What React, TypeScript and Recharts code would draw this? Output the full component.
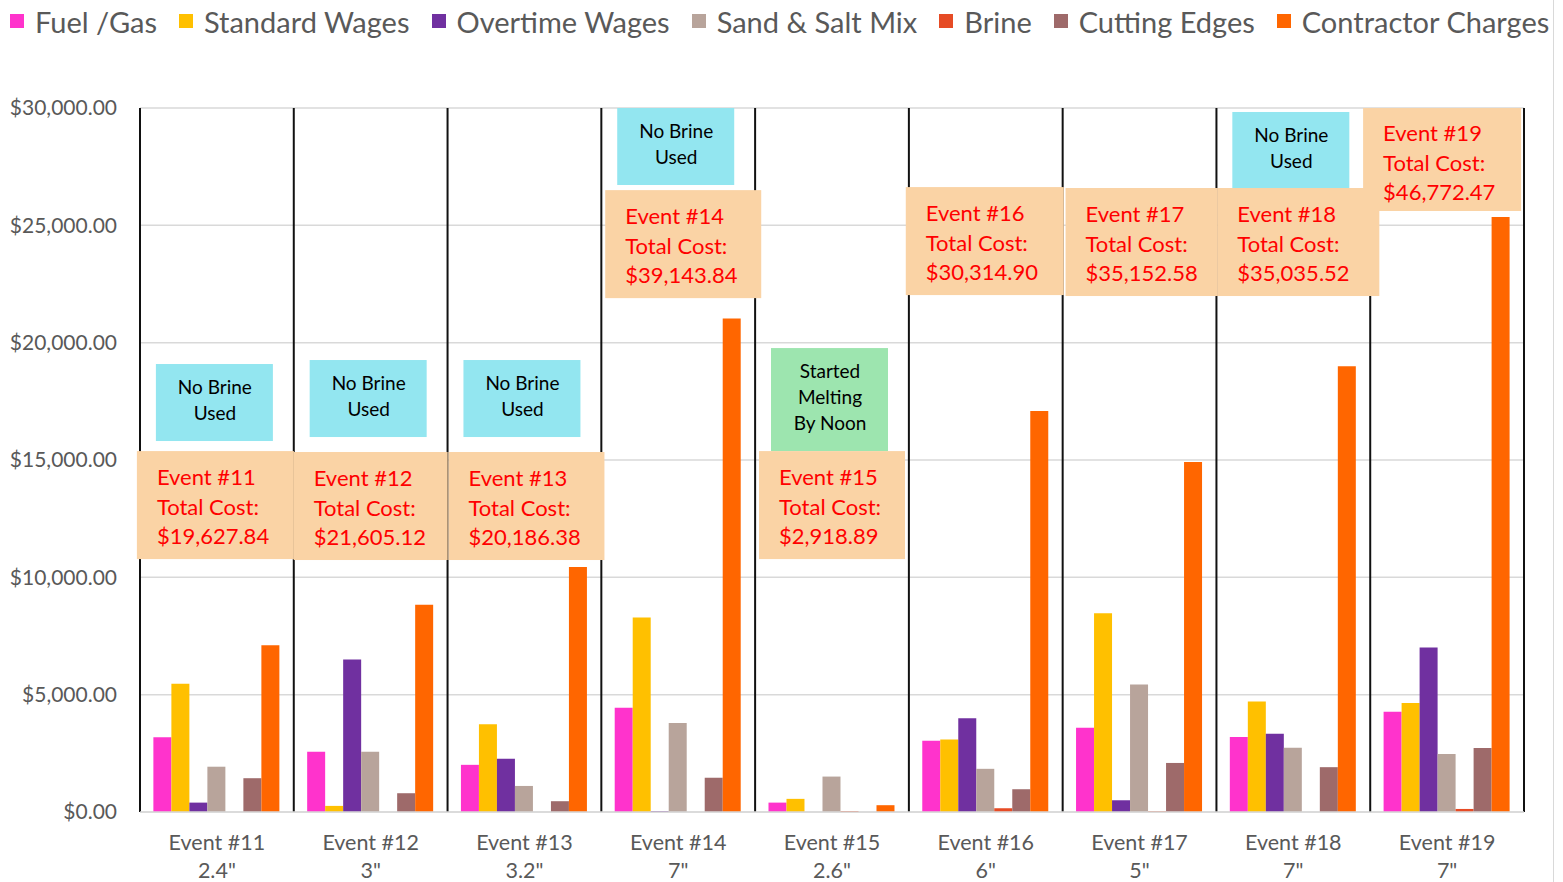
import React from 'react'
import { BarChart, Bar, XAxis, YAxis, CartesianGrid, Legend, ReferenceDot } from 'recharts'

const events = ['Event #11', 'Event #12', 'Event #13', 'Event #14', 'Event #15', 'Event #16', 'Event #17', 'Event #18', 'Event #19']
const snowfall = ['2.4"', '3"', '3.2"', '7"', '2.6"', '6"', '5"', '7"', '7"']

const fuelGas = [3190, 2570, 2010, 4440, 400, 3040, 3590, 3200, 4270]
const standardWages = [5470, 260, 3740, 8290, 560, 3090, 8470, 4710, 4640]
const overtimeWages = [400, 6500, 2270, 40, 0, 3990, 500, 3330, 7010]
const sandSaltMix = [1930, 2570, 1110, 3790, 1510, 1840, 5430, 2740, 2470]
const brine = [0, 0, 0, 0, 40, 160, 30, 0, 130]
const cuttingEdges = [1440, 800, 460, 1460, 0, 970, 2090, 1910, 2730]
const contractorCharges = [7110, 8830, 10440, 21030, 290, 17090, 14910, 19000, 25350]

const seriesKeys = ['fuel', 'standard', 'overtime', 'sand', 'brine', 'cutting', 'contractor']
const seriesNames = ['Fuel /Gas', 'Standard Wages', 'Overtime Wages', 'Sand & Salt Mix', 'Brine', 'Cutting Edges', 'Contractor Charges']
const colors = ['#FF33CC', '#FFC000', '#7030A0', '#B8A49B', '#E64B25', '#9E6A6A', '#FF6600']

const yTicks = [0, 5000, 10000, 15000, 20000, 25000, 30000]

// annotation boxes
const totalCosts = ['$19,627.84', '$21,605.12', '$20,186.38', '$39,143.84', '$2,918.89', '$30,314.90', '$35,152.58', '$35,035.52', '$46,772.47']
const costBoxTop = [15380, 15340, 15340, 26500, 15380, 26630, 26590, 26590, 30000]
const costBoxShift = [-80, -77, -76, -73, -73, -80, -74, -76, -84]
const costBoxWidth = [157, 154, 156, 156, 146, 158, 152, 162, 158]

const notes = [
  { event: 'Event #11', lines: ['No Brine', 'Used'], top: 19090, fill: '#93E6F0' },
  { event: 'Event #12', lines: ['No Brine', 'Used'], top: 19260, fill: '#93E6F0' },
  { event: 'Event #13', lines: ['No Brine', 'Used'], top: 19260, fill: '#93E6F0' },
  { event: 'Event #14', lines: ['No Brine', 'Used'], top: 30000, fill: '#93E6F0' },
  { event: 'Event #15', lines: ['Started', 'Melting', 'By Noon'], top: 19770, fill: '#9DE5AF' },
  { event: 'Event #18', lines: ['No Brine', 'Used'], top: 29830, fill: '#93E6F0' },
]

const data = events.map((event, i) => ({
  event,
  fuel: fuelGas[i],
  standard: standardWages[i],
  overtime: overtimeWages[i],
  sand: sandSaltMix[i],
  brine: brine[i],
  cutting: cuttingEdges[i],
  contractor: contractorCharges[i],
}))

const money = (v: number) =>
  '$' + v.toLocaleString('en-US', { minimumFractionDigits: 2, maximumFractionDigits: 2 })

function EventTick(props: any) {
  const { x, y, payload, index } = props
  return (
    <text x={x} y={y} textAnchor="middle" fill="#595959" fontSize={21.5} fontFamily="Lato">
      <tspan x={x} dy={30}>{payload.value}</tspan>
      <tspan x={x} dy={28}>{snowfall[index]}</tspan>
    </text>
  )
}

const costBox = (i: number) => (props: any) => {
  const { cx, cy } = props
  const left = cx + costBoxShift[i]
  const tx = left + 20
  return (
    <g>
      <rect x={left} y={cy} width={costBoxWidth[i]} height={i === 8 ? 103 : 108} fill="#FAD3A5" />
      <text x={tx} y={cy} fill="#FF0000" fontSize={22} fontFamily="Lato">
        <tspan x={tx} dy={i === 8 ? 33 : 34}>{events[i]}</tspan>
        <tspan x={tx} dy={30}>Total Cost:</tspan>
        <tspan x={tx} dy={29}>{totalCosts[i]}</tspan>
      </text>
    </g>
  )
}

const noteBox = (n: typeof notes[number]) => (props: any) => {
  const { cx, cy } = props
  const h = n.lines.length === 3 ? 103 : 77
  return (
    <g>
      <rect x={cx - 61} y={cy} width={117} height={h} fill={n.fill} />
      <text x={cx - 2} y={cy} fill="#000" fontSize={19} fontFamily="Lato" textAnchor="middle">
        {n.lines.map((l, j) => (
          <tspan key={j} x={cx - 2} dy={j === 0 ? 30 : 26}>{l}</tspan>
        ))}
      </text>
    </g>
  )
}

function LegendRow() {
  return (
    <div style={{ display: 'flex', alignItems: 'center', height: 42, paddingLeft: 10, fontFamily: 'Lato' }}>
      {seriesNames.map((name, i) => (
        <div key={name} style={{ display: 'flex', alignItems: 'center', marginRight: 22 }}>
          <span style={{ width: 14, height: 14, background: colors[i], display: 'inline-block', marginRight: 11 }} />
          <span style={{ fontSize: 29, color: '#595959', whiteSpace: 'nowrap' }}>{name}</span>
        </div>
      ))}
    </div>
  )
}

export default function App() {
  return (
    <div style={{ position: 'absolute', left: 0, top: 0, width: 1553, height: 882, background: '#fff', borderRight: '1px solid #d9d9d9' }}>
      <BarChart
        width={1553}
        height={882}
        data={data}
        margin={{ top: 64, right: 29, bottom: 0, left: 10 }}
        barCategoryGap="8.7%"
        barGap={0}
        style={{ fontFamily: 'Lato' }}
      >
        <CartesianGrid vertical={false} stroke="#d9d9d9" strokeWidth={1.5} />
        <CartesianGrid
          horizontal={false}
          stroke="#111"
          strokeWidth={2}
          verticalCoordinatesGenerator={(p: any) =>
            events.concat(['']).map((_, i) => p.offset.left + (i * p.offset.width) / events.length)
          }
        />
        <XAxis
          dataKey="event"
          height={70}
          tickLine={false}
          axisLine={{ stroke: '#d9d9d9', strokeWidth: 1.5 }}
          tick={<EventTick />}
          interval={0}
        />
        <YAxis
          width={130}
          domain={[0, 30000]}
          ticks={yTicks}
          tickFormatter={money}
          axisLine={false}
          tickLine={false}
          tickSize={0}
          tickMargin={23}
          tick={{ fill: '#595959', fontSize: 21 }}
        />
        <Legend
          verticalAlign="top"
          content={<LegendRow />}
          wrapperStyle={{ top: 0, left: 0, width: 1553, height: 44 }}
        />
        {seriesKeys.map((k, i) => (
          <Bar key={k} dataKey={k} name={seriesNames[i]} fill={colors[i]} isAnimationActive={false} />
        ))}
        {notes.map((n, i) => (
          <ReferenceDot key={'n' + i} x={n.event} y={n.top} ifOverflow="visible" shape={noteBox(n)} />
        ))}
        {events.map((e, i) => (
          <ReferenceDot key={'c' + i} x={e} y={costBoxTop[i]} ifOverflow="visible" shape={costBox(i)} />
        ))}
      </BarChart>
    </div>
  )
}
